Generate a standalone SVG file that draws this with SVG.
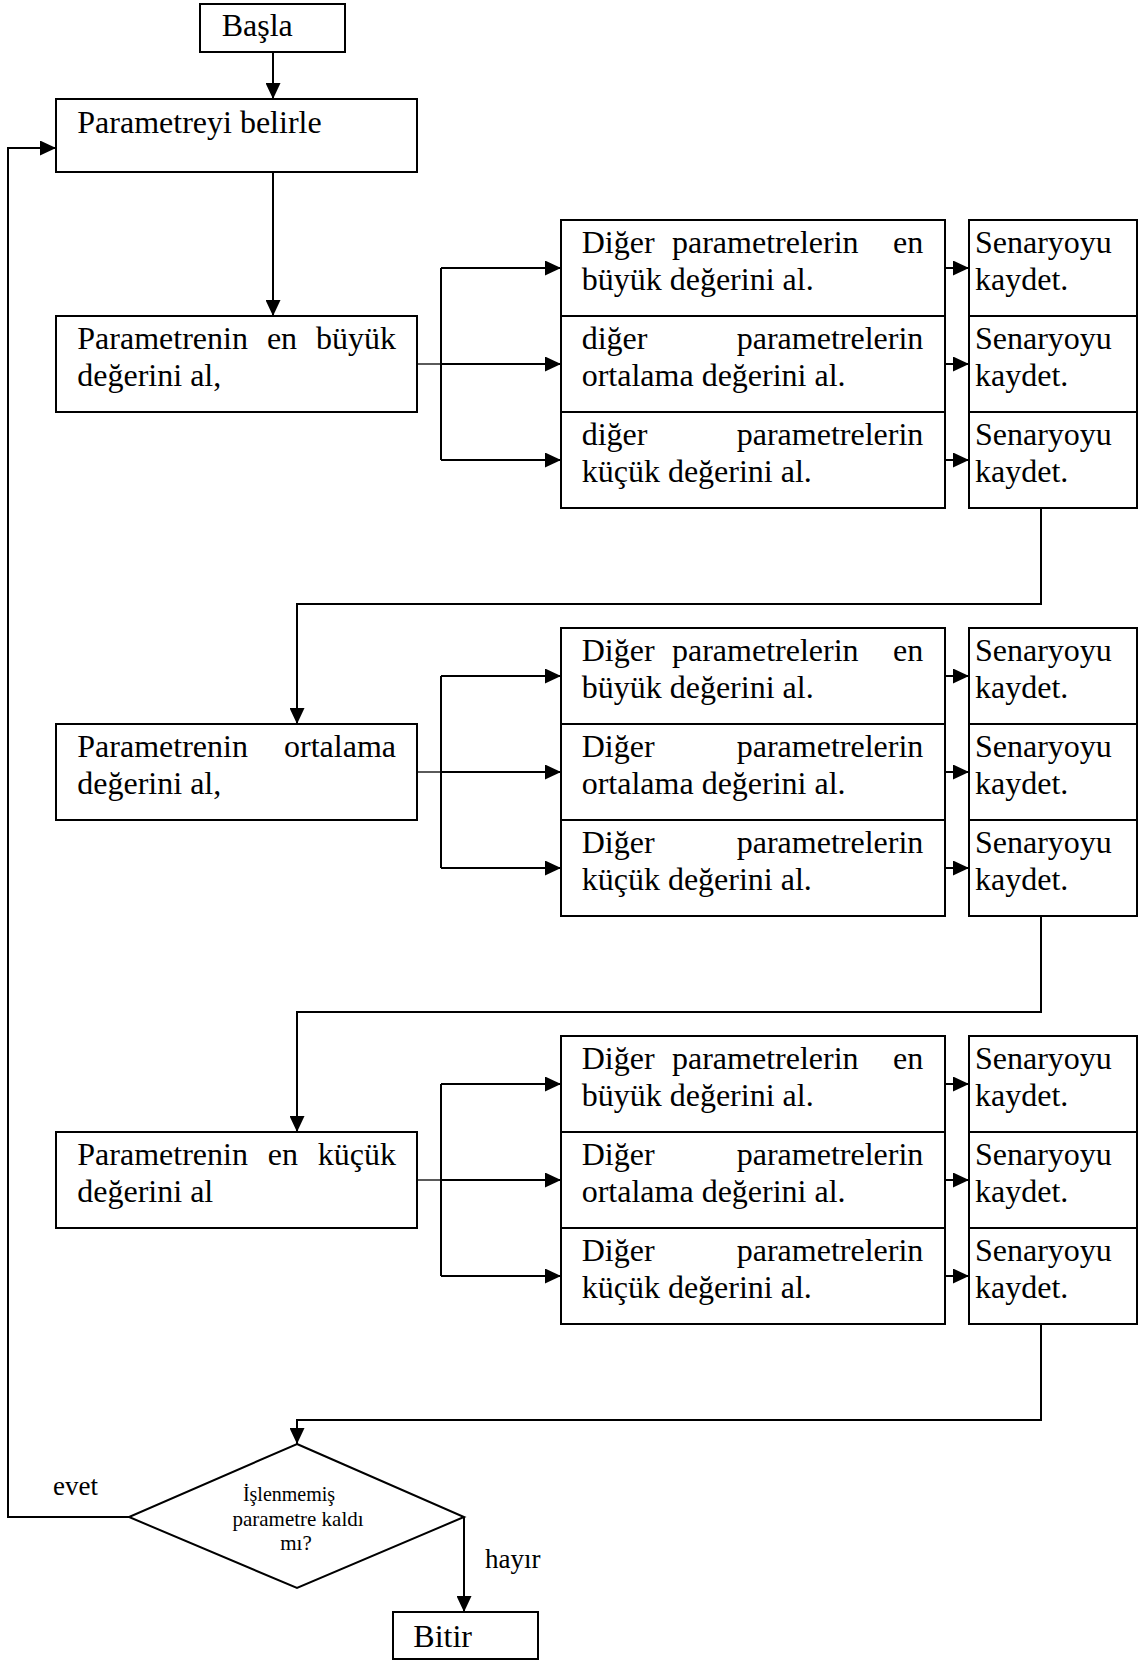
<svg xmlns="http://www.w3.org/2000/svg" width="1141" height="1661" viewBox="0 0 1141 1661">
<defs>
<style>
.box{fill:#fff;stroke:#000;stroke-width:2}
.t{font-family:"Liberation Serif","Times New Roman",serif;font-size:32px;fill:#000}
.e{text-anchor:end}
.m{text-anchor:middle}
.s{font-size:27px}
.q{font-size:21px;text-anchor:middle}
.ln{fill:none;stroke:#000;stroke-width:2}
.thin{fill:none;stroke:#000;stroke-width:1.3}
.arr{fill:none;stroke:#000;stroke-width:2;marker-end:url(#ah)}
</style>
<marker id="ah" markerWidth="16" markerHeight="15" refX="16" refY="7.5" orient="auto" markerUnits="userSpaceOnUse">
<path d="M0,0 L16,7.5 L0,15 Z" fill="#000"/>
</marker>
</defs>
<rect width="1141" height="1661" fill="#fff"/>

<!-- connectors -->
<g id="connectors">
<path class="arr" d="M273,52 V99"/>
<path class="arr" d="M273,172 V316"/>
<!-- section 1 (top 220) -->
<path class="thin" d="M417,364 H441"/>
<path class="ln" d="M441,268 V460"/>
<path class="arr" d="M441,268 H561"/>
<path class="arr" d="M441,364 H561"/>
<path class="arr" d="M441,460 H561"/>
<path class="arr" d="M945,268 H969"/>
<path class="arr" d="M945,364 H969"/>
<path class="arr" d="M945,460 H969"/>
<path class="arr" d="M1041,508 V604 H297 V724"/>
<!-- section 2 (top 628) -->
<path class="thin" d="M417,772 H441"/>
<path class="ln" d="M441,676 V868"/>
<path class="arr" d="M441,676 H561"/>
<path class="arr" d="M441,772 H561"/>
<path class="arr" d="M441,868 H561"/>
<path class="arr" d="M945,676 H969"/>
<path class="arr" d="M945,772 H969"/>
<path class="arr" d="M945,868 H969"/>
<path class="arr" d="M1041,916 V1012 H297 V1132"/>
<!-- section 3 (top 1036) -->
<path class="thin" d="M417,1180 H441"/>
<path class="ln" d="M441,1084 V1276"/>
<path class="arr" d="M441,1084 H561"/>
<path class="arr" d="M441,1180 H561"/>
<path class="arr" d="M441,1276 H561"/>
<path class="arr" d="M945,1084 H969"/>
<path class="arr" d="M945,1180 H969"/>
<path class="arr" d="M945,1276 H969"/>
<path class="arr" d="M1041,1324 V1420 H297 V1444"/>
<!-- decision exits -->
<path class="arr" d="M129,1517 H8 V148 H56"/>
<path class="arr" d="M464,1517 V1612"/>
<text class="t s" x="53" y="1495">evet</text>
<text class="t s" x="485" y="1568">hayır</text>
</g>

<g id="start">
<rect class="box" x="200" y="4" width="145" height="48"/>
<text class="t" x="221.7" y="36">Başla</text>
</g>

<g id="select-param">
<rect class="box" x="56" y="99" width="361" height="73"/>
<text class="t" x="77.3" y="132.7">Parametreyi belirle</text>
</g>

<!-- section 1 -->
<g id="param-max">
<rect class="box" x="56" y="316" width="361" height="96"/>
<text class="t" x="77.3" y="349.3">Parametrenin</text>
<text class="t m" x="282" y="349.3">en</text>
<text class="t e" x="396" y="349.3">büyük</text>
<text class="t" x="77.3" y="386.3">değerini al,</text>
</g>
<g id="s1-other-max">
<rect class="box" x="561" y="220" width="384" height="96"/>
<text class="t" x="581.7" y="253.3">Diğer</text>
<text class="t" x="672" y="253.3">parametrelerin</text>
<text class="t e" x="923.3" y="253.3">en</text>
<text class="t" x="581.7" y="290">büyük değerini al.</text>
</g>
<g id="s1-other-avg">
<rect class="box" x="561" y="316" width="384" height="96"/>
<text class="t" x="581.7" y="349.3">diğer</text>
<text class="t e" x="923.3" y="349.3">parametrelerin</text>
<text class="t" x="581.7" y="386">ortalama değerini al.</text>
</g>
<g id="s1-other-min">
<rect class="box" x="561" y="412" width="384" height="96"/>
<text class="t" x="581.7" y="445.3">diğer</text>
<text class="t e" x="923.3" y="445.3">parametrelerin</text>
<text class="t" x="581.7" y="482">küçük değerini al.</text>
</g>
<g id="s1-save-1">
<rect class="box" x="969" y="220" width="168" height="96"/>
<text class="t" x="975" y="253.3">Senaryoyu</text>
<text class="t" x="975" y="290">kaydet.</text>
</g>
<g id="s1-save-2">
<rect class="box" x="969" y="316" width="168" height="96"/>
<text class="t" x="975" y="349.3">Senaryoyu</text>
<text class="t" x="975" y="386">kaydet.</text>
</g>
<g id="s1-save-3">
<rect class="box" x="969" y="412" width="168" height="96"/>
<text class="t" x="975" y="445.3">Senaryoyu</text>
<text class="t" x="975" y="482">kaydet.</text>
</g>

<!-- section 2 -->
<g id="param-avg">
<rect class="box" x="56" y="724" width="361" height="96"/>
<text class="t" x="77.3" y="757.3">Parametrenin</text>
<text class="t e" x="396" y="757.3">ortalama</text>
<text class="t" x="77.3" y="794.3">değerini al,</text>
</g>
<g id="s2-other-max">
<rect class="box" x="561" y="628" width="384" height="96"/>
<text class="t" x="581.7" y="661.3">Diğer</text>
<text class="t" x="672" y="661.3">parametrelerin</text>
<text class="t e" x="923.3" y="661.3">en</text>
<text class="t" x="581.7" y="698">büyük değerini al.</text>
</g>
<g id="s2-other-avg">
<rect class="box" x="561" y="724" width="384" height="96"/>
<text class="t" x="581.7" y="757.3">Diğer</text>
<text class="t e" x="923.3" y="757.3">parametrelerin</text>
<text class="t" x="581.7" y="794">ortalama değerini al.</text>
</g>
<g id="s2-other-min">
<rect class="box" x="561" y="820" width="384" height="96"/>
<text class="t" x="581.7" y="853.3">Diğer</text>
<text class="t e" x="923.3" y="853.3">parametrelerin</text>
<text class="t" x="581.7" y="890">küçük değerini al.</text>
</g>
<g id="s2-save-1">
<rect class="box" x="969" y="628" width="168" height="96"/>
<text class="t" x="975" y="661.3">Senaryoyu</text>
<text class="t" x="975" y="698">kaydet.</text>
</g>
<g id="s2-save-2">
<rect class="box" x="969" y="724" width="168" height="96"/>
<text class="t" x="975" y="757.3">Senaryoyu</text>
<text class="t" x="975" y="794">kaydet.</text>
</g>
<g id="s2-save-3">
<rect class="box" x="969" y="820" width="168" height="96"/>
<text class="t" x="975" y="853.3">Senaryoyu</text>
<text class="t" x="975" y="890">kaydet.</text>
</g>

<!-- section 3 -->
<g id="param-min">
<rect class="box" x="56" y="1132" width="361" height="96"/>
<text class="t" x="77.3" y="1165.3">Parametrenin</text>
<text class="t m" x="282.8" y="1165.3">en</text>
<text class="t e" x="396" y="1165.3">küçük</text>
<text class="t" x="77.3" y="1202.3">değerini al</text>
</g>
<g id="s3-other-max">
<rect class="box" x="561" y="1036" width="384" height="96"/>
<text class="t" x="581.7" y="1069.3">Diğer</text>
<text class="t" x="672" y="1069.3">parametrelerin</text>
<text class="t e" x="923.3" y="1069.3">en</text>
<text class="t" x="581.7" y="1106">büyük değerini al.</text>
</g>
<g id="s3-other-avg">
<rect class="box" x="561" y="1132" width="384" height="96"/>
<text class="t" x="581.7" y="1165.3">Diğer</text>
<text class="t e" x="923.3" y="1165.3">parametrelerin</text>
<text class="t" x="581.7" y="1202">ortalama değerini al.</text>
</g>
<g id="s3-other-min">
<rect class="box" x="561" y="1228" width="384" height="96"/>
<text class="t" x="581.7" y="1261.3">Diğer</text>
<text class="t e" x="923.3" y="1261.3">parametrelerin</text>
<text class="t" x="581.7" y="1298">küçük değerini al.</text>
</g>
<g id="s3-save-1">
<rect class="box" x="969" y="1036" width="168" height="96"/>
<text class="t" x="975" y="1069.3">Senaryoyu</text>
<text class="t" x="975" y="1106">kaydet.</text>
</g>
<g id="s3-save-2">
<rect class="box" x="969" y="1132" width="168" height="96"/>
<text class="t" x="975" y="1165.3">Senaryoyu</text>
<text class="t" x="975" y="1202">kaydet.</text>
</g>
<g id="s3-save-3">
<rect class="box" x="969" y="1228" width="168" height="96"/>
<text class="t" x="975" y="1261.3">Senaryoyu</text>
<text class="t" x="975" y="1298">kaydet.</text>
</g>

<g id="decision">
<polygon class="box" points="297,1444 464,1517 297,1588 129,1517"/>
<text class="t q" x="289" y="1501" style="font-size:20px">İşlenmemiş</text>
<text class="t q" x="298" y="1525.5">parametre kaldı</text>
<text class="t q" x="296" y="1550">mı?</text>
</g>

<g id="end">
<rect class="box" x="393" y="1612" width="145" height="47"/>
<text class="t" x="413.3" y="1646.7">Bitir</text>
</g>
</svg>
